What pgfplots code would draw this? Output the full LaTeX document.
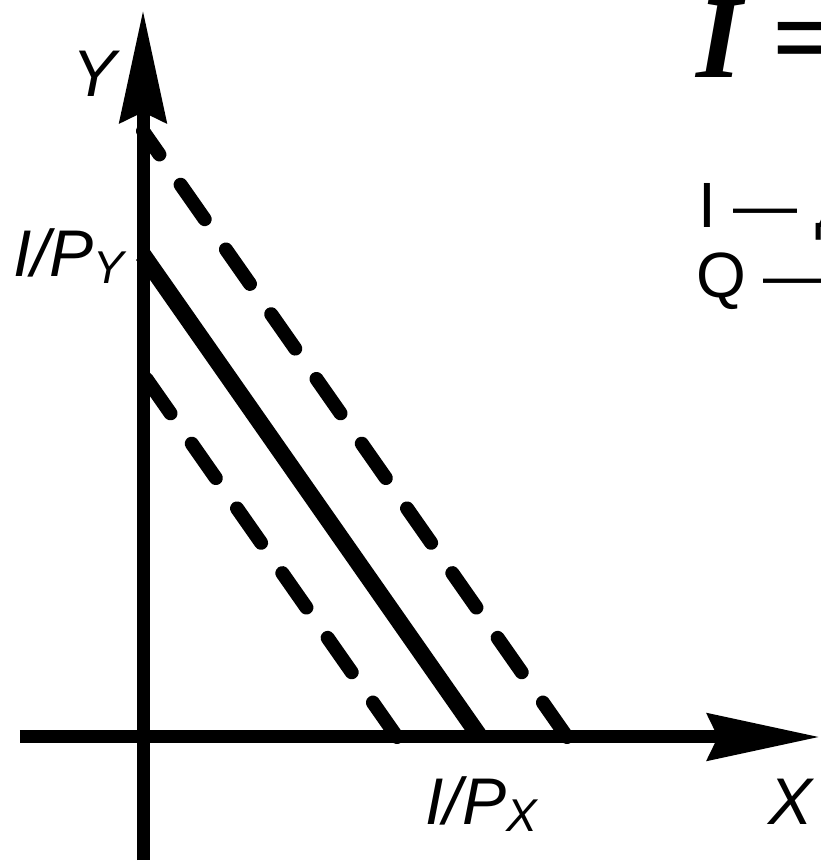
\documentclass[border=0pt]{standalone}
\usepackage{fontspec}
\setmainfont{Liberation Sans}
\newfontfamily\serifbi{Liberation Serif}
\usepackage{pgfplots}
\pgfplotsset{compat=1.18}
\usetikzlibrary{arrows.meta}
\newcommand\lab{\itshape\fontsize{33}{33}\selectfont}
\newcommand\sub[1]{\raisebox{-3.5pt}{\fontsize{23}{23}\selectfont #1}}
\begin{document}
\begin{tikzpicture}
% 1 data unit = 1 px of the 820x862 reference, origin where the axes cross
\useasboundingbox (-71.5pt,-62.5pt) rectangle (338.5pt,368.5pt);
\clip (-71.5pt,-62.5pt) rectangle (338.5pt,368.5pt);
\begin{axis}[at={(0,0)}, anchor=origin, x=0.5pt, y=0.5pt,
  xmin=-123, xmax=677, ymin=-123, ymax=727,
  axis lines=middle, xtick=\empty, ytick=\empty, clip=false,
  axis line style={line width=6.5pt, -{Stealth[length=56pt,width=23pt,inset=5pt]}}]
\addplot[line width=7pt, line cap=round, dash pattern=on 21pt off 18.5pt] coordinates {(254,0) (0,363)};
\addplot[line width=8.5pt] coordinates {(337,0) (0,482)};
\addplot[line width=7pt, line cap=round, dash pattern=on 21pt off 18.5pt] coordinates {(424,0) (0,606)};
\node[anchor=base west, inner sep=0pt] at (axis cs:-71,640) {\lab Y};
\node[anchor=base east, inner sep=0pt] at (axis cs:-18,460) {\lab I/P\sub{Y}};
\node[anchor=base west, inner sep=0pt] at (axis cs:282,-88) {\lab I/P\sub{X}};
\node[anchor=base west, inner sep=0pt] at (axis cs:625,-88) {\lab X};
\node[anchor=base west, inner sep=0pt] at (axis cs:553,659) {\serifbi\bfseries\itshape\fontsize{59}{59}\selectfont I = P\textsubscript{X}X + P\textsubscript{Y}Y};
\node[anchor=base west, inner sep=0pt] at (axis cs:555,509) {\fontsize{32}{32}\selectfont I — доход};
\node[anchor=base west, inner sep=0pt] at (axis cs:553,439) {\fontsize{32}{32}\selectfont Q — количество};
\end{axis}
\end{tikzpicture}
\end{document}
